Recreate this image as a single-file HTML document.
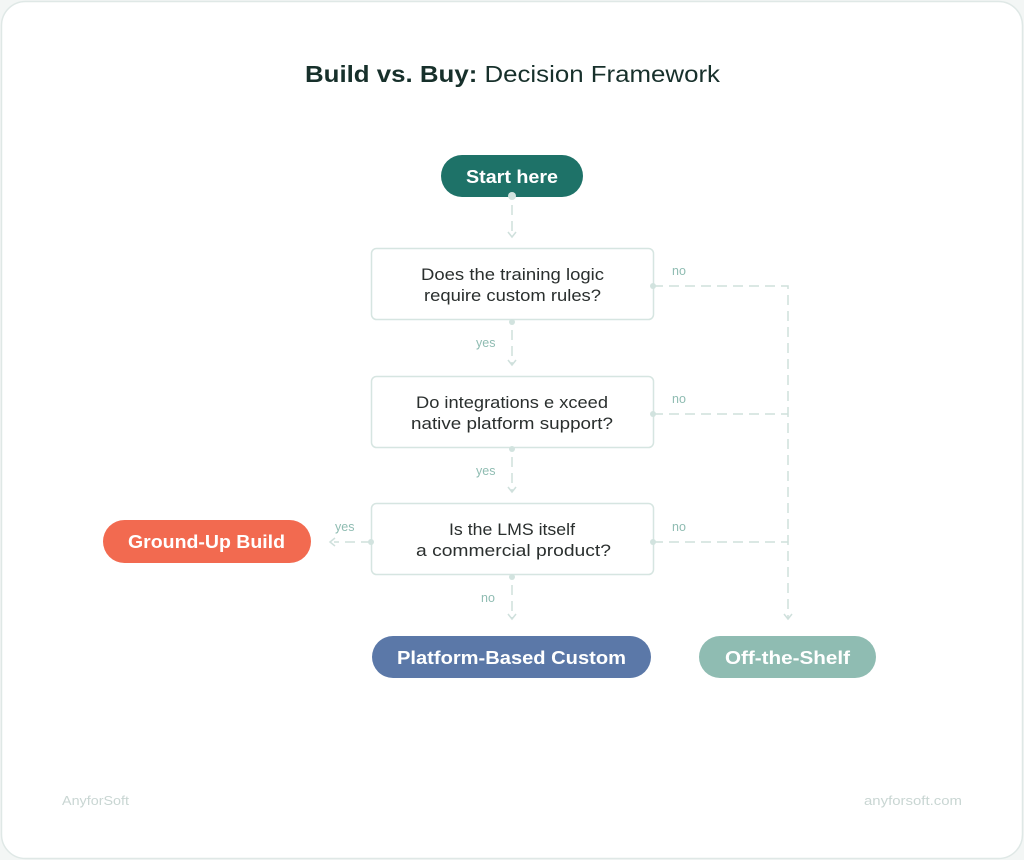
<!DOCTYPE html>
<html><head><meta charset="utf-8"><style>
html,body{margin:0;padding:0;background:#f3f6f5;}
svg{display:block;font-family:"Liberation Sans",sans-serif;}
</style></head><body>
<svg width="1024" height="860" viewBox="0 0 1024 860" xmlns="http://www.w3.org/2000/svg">
<rect x="1.5" y="1.5" width="1021" height="857" rx="24" fill="#fff" stroke="#dfe8e6" stroke-width="1.5"/>
<text x="305" y="82" font-size="23" fill="#17302b" textLength="415" lengthAdjust="spacingAndGlyphs"><tspan font-weight="bold">Build vs. Buy:</tspan> Decision Framework</text>

<g stroke="#cfe0dc" stroke-width="1.5" fill="none" stroke-dasharray="10 6">
<line x1="512" y1="205" x2="512" y2="236"/>
<line x1="512" y1="330" x2="512" y2="364"/>
<line x1="512" y1="457" x2="512" y2="491"/>
<line x1="512" y1="585" x2="512" y2="618"/>
<polyline points="653,286 788,286 788,618"/>
<line x1="653" y1="414" x2="788" y2="414"/>
<line x1="653" y1="542" x2="788" y2="542"/>
<line x1="371" y1="542" x2="334" y2="542"/>
</g>
<g stroke="#cfe0dc" stroke-width="1.5" fill="none">
<polyline points="508,232 512,237 516,232"/>
<polyline points="508,360 512,365 516,360"/>
<polyline points="508,487 512,492 516,487"/>
<polyline points="508,614 512,619 516,614"/>
<polyline points="784,614 788,619 792,614"/>
<polyline points="335,538 330,542 335,546"/>
</g>

<rect x="441" y="155" width="142" height="42" rx="21" fill="#1e7268"/>
<text x="466" y="183" font-size="18" font-weight="bold" fill="#fff" textLength="92" lengthAdjust="spacingAndGlyphs">Start here</text>

<g fill="#fff" stroke="#d6e5e1" stroke-width="1.5">
<rect x="371.5" y="248.5" width="282" height="71" rx="5"/>
<rect x="371.5" y="376.5" width="282" height="71" rx="5"/>
<rect x="371.5" y="503.5" width="282" height="71" rx="5"/>
</g>
<g fill="#d2e3df">
<circle cx="512" cy="196" r="4"/>
<circle cx="512" cy="322" r="3"/><circle cx="653" cy="286" r="3"/>
<circle cx="512" cy="449" r="3"/><circle cx="653" cy="414" r="3"/>
<circle cx="512" cy="577" r="3"/><circle cx="653" cy="542" r="3"/><circle cx="371" cy="542" r="3"/>
</g>
<g font-size="16.5" fill="#2a2f2e">
<text x="421" y="280" textLength="183" lengthAdjust="spacingAndGlyphs">Does the training logic</text>
<text x="424" y="301" textLength="177" lengthAdjust="spacingAndGlyphs">require custom rules?</text>
<text x="416" y="408" textLength="192" lengthAdjust="spacingAndGlyphs">Do integrations e xceed</text>
<text x="411" y="429" textLength="202" lengthAdjust="spacingAndGlyphs">native platform support?</text>
<text x="449" y="535" textLength="126" lengthAdjust="spacingAndGlyphs">Is the LMS itself</text>
<text x="416" y="556" textLength="195" lengthAdjust="spacingAndGlyphs">a commercial product?</text>
</g>
<g font-size="12.5" fill="#8fbcb2">
<text x="672" y="275">no</text>
<text x="672" y="403">no</text>
<text x="672" y="531">no</text>
<text x="476" y="347">yes</text>
<text x="476" y="475">yes</text>
<text x="335" y="531">yes</text>
<text x="481" y="602">no</text>
</g>

<rect x="103" y="520" width="208" height="43" rx="21.5" fill="#f26a50"/>
<text x="128" y="548" font-size="18" font-weight="bold" fill="#fff" textLength="157" lengthAdjust="spacingAndGlyphs">Ground-Up Build</text>
<rect x="372" y="636" width="279" height="42" rx="21" fill="#5b78a8"/>
<text x="397" y="664" font-size="18" font-weight="bold" fill="#fff" textLength="229" lengthAdjust="spacingAndGlyphs">Platform-Based Custom</text>
<rect x="699" y="636" width="177" height="42" rx="21" fill="#8fbcb2"/>
<text x="725" y="664" font-size="18" font-weight="bold" fill="#fff" textLength="125" lengthAdjust="spacingAndGlyphs">Off-the-Shelf</text>

<text x="62" y="805" font-size="13" fill="#c9d6d3" textLength="67" lengthAdjust="spacingAndGlyphs">AnyforSoft</text>
<text x="864" y="805" font-size="13" fill="#c9d6d3" textLength="98" lengthAdjust="spacingAndGlyphs">anyforsoft.com</text>
</svg>
</body></html>
